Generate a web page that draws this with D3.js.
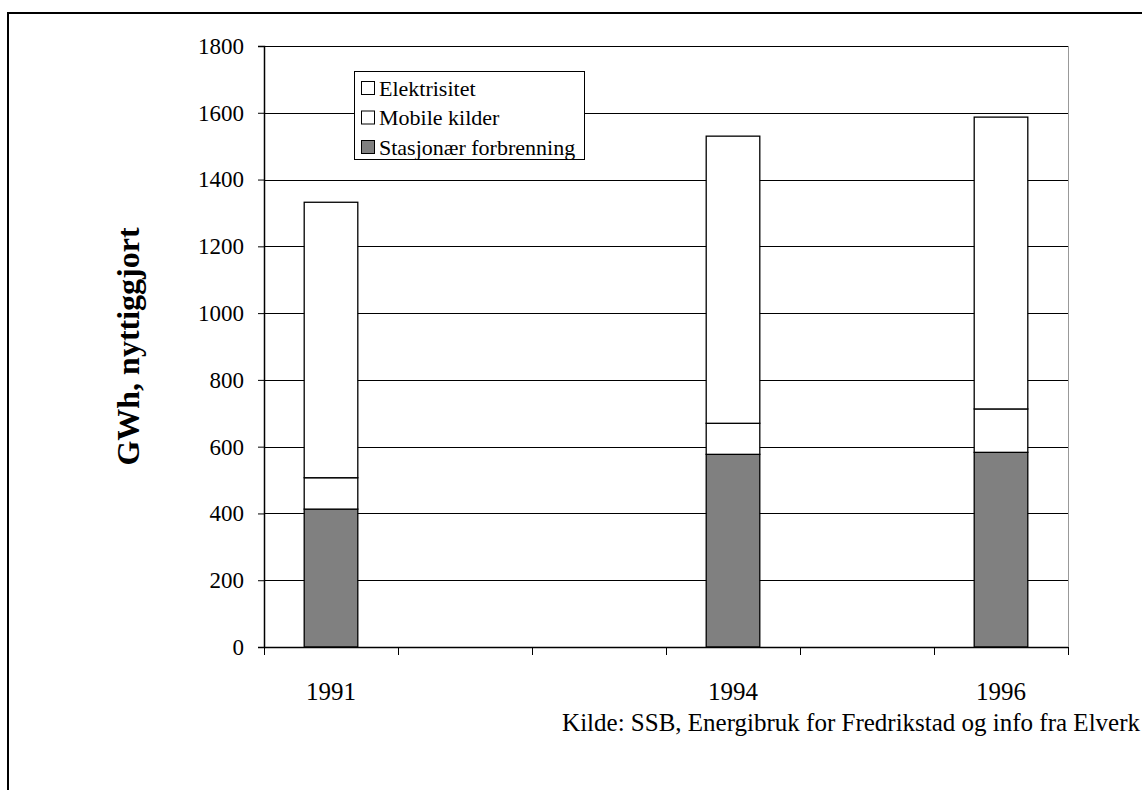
<!DOCTYPE html>
<html>
<head>
<meta charset="utf-8">
<script src="https://cdn.jsdelivr.net/npm/d3@7"></script>
<style>
  html, body { margin: 0; padding: 0; background: #fff; }
  svg { display: block; }
  svg text { font-family: "Liberation Serif", "Times New Roman", serif; fill: #000; }
</style>
</head>
<body>
<svg id="chart" width="1142" height="790"></svg>
<script>
// Category slots along the x axis (one per year); only some years carry data.
const slots = ["1991", "1992", "1993", "1994", "1995", "1996"];
const slotLabels = ["1991", "", "", "1994", "", "1996"];

// Years with measurements
const years = ["1991", "1994", "1996"];

// GWh, nyttiggjort, by energy source
const stasjonaer = [413, 577, 583];
const mobile = [94, 93, 130];
const elektrisitet = [825, 860, 874];

const seriesNames = ["Stasjonær forbrenning", "Mobile kilder", "Elektrisitet"];
const seriesColors = ["#808080", "#ffffff", "#ffffff"];

const yTicks = [0, 200, 400, 600, 800, 1000, 1200, 1400, 1600, 1800];

const FONT = "Liberation Serif, Times New Roman, serif";
const svg = d3.select("#chart").attr("font-family", FONT);

// outer frame
svg.append("rect")
  .attr("x", 8).attr("y", 13)
  .attr("width", 1300).attr("height", 900)
  .attr("fill", "none").attr("stroke", "#000").attr("stroke-width", 2);

const plot = { left: 264, right: 1068, top: 46, bottom: 647 };

const x = d3.scaleBand()
  .domain(slots)
  .range([plot.left, plot.right])
  .paddingInner(0.6)
  .paddingOuter(0.3);

const y = d3.scaleLinear()
  .domain([0, 1800])
  .range([plot.bottom, plot.top]);

// gridlines
svg.append("g")
  .selectAll("line")
  .data(yTicks.filter(d => d > 0))
  .join("line")
  .attr("x1", plot.left).attr("x2", plot.right)
  .attr("y1", d => Math.round(y(d)) + 0.5).attr("y2", d => Math.round(y(d)) + 0.5)
  .attr("stroke", "#000").attr("stroke-width", 1);

// right edge of plot area
svg.append("line")
  .attr("x1", plot.right + 0.5).attr("x2", plot.right + 0.5)
  .attr("y1", plot.top).attr("y2", plot.bottom)
  .attr("stroke", "#999").attr("stroke-width", 1);

// stacked bars
const rows = years.map((yr, i) => ({
  year: yr,
  [seriesNames[0]]: stasjonaer[i],
  [seriesNames[1]]: mobile[i],
  [seriesNames[2]]: elektrisitet[i]
}));
const stacked = d3.stack().keys(seriesNames)(rows);

svg.append("g")
  .selectAll("g")
  .data(stacked)
  .join("g")
  .attr("fill", (d, i) => seriesColors[i])
  .selectAll("rect")
  .data(d => d)
  .join("rect")
  .attr("x", d => x(d.data.year))
  .attr("width", x.bandwidth())
  .attr("y", d => y(d[1]))
  .attr("height", d => y(d[0]) - y(d[1]))
  .attr("stroke", "#000")
  .attr("stroke-width", 1.3);

// y axis
const yAxis = d3.axisLeft(y).tickValues(yTicks).tickFormat(d3.format("d")).tickSize(6).tickPadding(14);
const gy = svg.append("g")
  .attr("transform", `translate(${plot.left},0)`)
  .call(yAxis)
  .attr("font-family", FONT)
  .attr("font-size", 23);
gy.select(".domain").attr("stroke", "#000").attr("stroke-width", 1.5);
gy.selectAll(".tick line").attr("stroke", "#000");
gy.selectAll(".tick text").attr("fill", "#000");

// x axis: ticks at slot boundaries, labels centred in slots
const gx = svg.append("g").attr("transform", `translate(0,${plot.bottom})`);
gx.append("line")
  .attr("x1", plot.left).attr("x2", plot.right)
  .attr("y1", 0.5).attr("y2", 0.5)
  .attr("stroke", "#000").attr("stroke-width", 1.5);
const boundaries = slots.map(s => x(s) - x.step() * x.paddingInner() / 2).concat([plot.right]);
gx.selectAll(".xtick")
  .data(boundaries)
  .join("line")
  .attr("class", "xtick")
  .attr("x1", d => Math.round(d) + 0.5).attr("x2", d => Math.round(d) + 0.5)
  .attr("y1", 0).attr("y2", 8)
  .attr("stroke", "#000");
gx.selectAll(".xlabel")
  .data(slots)
  .join("text")
  .attr("class", "xlabel")
  .attr("x", d => x(d) + x.bandwidth() / 2)
  .attr("y", 53)
  .attr("text-anchor", "middle")
  .attr("font-size", 25)
  .text((d, i) => slotLabels[i]);

// y axis title
svg.append("text")
  .attr("transform", `translate(139,${(plot.top + plot.bottom) / 2}) rotate(-90)`)
  .attr("text-anchor", "middle")
  .attr("font-size", 32)
  .attr("font-weight", "bold")
  .text("GWh, nyttiggjort");

// legend
const legend = svg.append("g").attr("transform", "translate(354,71)");
legend.append("rect")
  .attr("x", 0.5).attr("y", 0.5)
  .attr("width", 230).attr("height", 88)
  .attr("fill", "#fff").attr("stroke", "#000").attr("stroke-width", 1);
const legendOrder = [2, 1, 0];
const li = legend.selectAll(".item")
  .data(legendOrder)
  .join("g")
  .attr("class", "item")
  .attr("transform", (d, i) => `translate(7,${17 + i * 29.5})`);
li.append("rect")
  .attr("x", 0.5).attr("y", -6.5)
  .attr("width", 13).attr("height", 13)
  .attr("fill", d => seriesColors[d])
  .attr("stroke", "#000").attr("stroke-width", 1);
li.append("text")
  .attr("x", 18).attr("y", 7.5)
  .attr("font-size", 22)
  .text(d => seriesNames[d]);

// source note
svg.append("text")
  .attr("x", 1140).attr("y", 731)
  .attr("text-anchor", "end")
  .attr("font-size", 25)
  .text("Kilde: SSB, Energibruk for Fredrikstad og info fra Elverk");
</script>
</body>
</html>
